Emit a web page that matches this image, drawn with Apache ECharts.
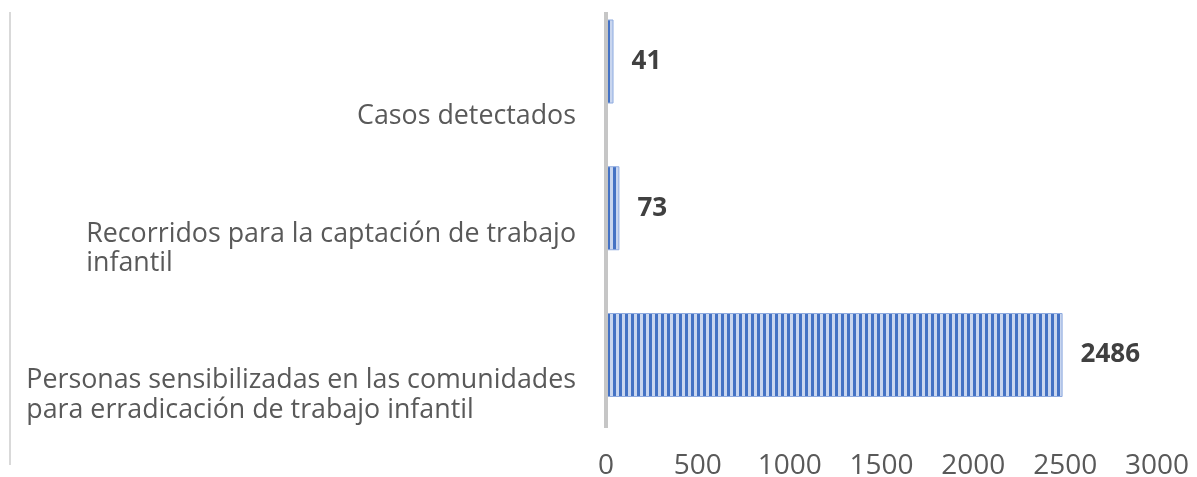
<!DOCTYPE html>
<html>
<head>
<meta charset="utf-8">
<script src="https://cdn.jsdelivr.net/npm/echarts@6/dist/echarts.min.js"></script>
<style>
html,body{margin:0;padding:0;background:#fff;}
#main{width:1197px;height:477px;}
</style>
</head>
<body>
<div id="main"></div>
<script>
var categories = [
  'Personas sensibilizadas en las comunidades\npara erradicación de trabajo infantil',
  'Recorridos para la captación de trabajo\ninfantil',
  'Casos detectados'
];
var values = [2486, 73, 41];
var xTicks = { min: 0, max: 3000, interval: 500 };

function makePattern() {
  var c = document.createElement('canvas');
  c.width = 6; c.height = 4;
  var ctx = c.getContext('2d');
  ctx.fillStyle = '#c9d6ef';
  ctx.fillRect(0, 0, 6, 4);
  ctx.fillStyle = '#4472c4';
  ctx.fillRect(1, 0, 3, 4);
  return c;
}

var chart = echarts.init(document.getElementById('main'), null, { renderer: 'canvas' });
var option = {
  animation: false,
  grid: { left: 606, right: 40, top: 61.5, bottom: 122, containLabel: false, outerBoundsMode: 'none' },
  xAxis: {
    type: 'value',
    min: xTicks.min, max: xTicks.max, interval: xTicks.interval,
    axisLine: { show: false },
    axisTick: { show: false },
    splitLine: { show: false },
    axisLabel: {
      color: '#595959', fontFamily: 'Open Sans', fontSize: 28, margin: 97,
      formatter: function (v) { return String(v); }
    }
  },
  yAxis: {
    type: 'category',
    data: categories,
    boundaryGap: false,
    axisLine: { show: false },
    axisTick: { show: false },
    axisLabel: {
      margin: 30,
      verticalAlign: 'top',
      padding: [11, 0, 0, 0],
      formatter: function (v) {
        var lines = v.split('\n');
        if (lines.length < 2) lines.unshift(' ');
        return lines.map(function (l) { return '{a|' + l + '}'; }).join('\n');
      },
      rich: {
        a: { align: 'left', color: '#595959', fontFamily: 'Open Sans', fontSize: 26.8, lineHeight: 29.5 }
      }
    }
  },
  series: [{
    type: 'bar',
    data: values,
    barWidth: 84,
    clip: false,
    itemStyle: {
      color: { image: makePattern(), repeat: 'repeat' },
      borderColor: '#8eaadf',
      borderWidth: 1
    },
    label: {
      show: true,
      position: 'right',
      distance: 18,
      color: '#404040',
      fontFamily: 'Open Sans',
      fontWeight: 'bold',
      fontSize: 26
    }
  }]
};
chart.setOption(option);
var x0 = chart.convertToPixel({ xAxisIndex: 0 }, 0);
chart.setOption({
  graphic: [
    { type: 'line', shape: { x1: x0, y1: 12, x2: x0, y2: 428 }, style: { stroke: '#c6c6c6', lineWidth: 4 }, z: 10 },
    { type: 'line', shape: { x1: 10, y1: 12, x2: 10, y2: 465 }, style: { stroke: '#d9d9d9', lineWidth: 2 } }
  ]
});
</script>
</body>
</html>
